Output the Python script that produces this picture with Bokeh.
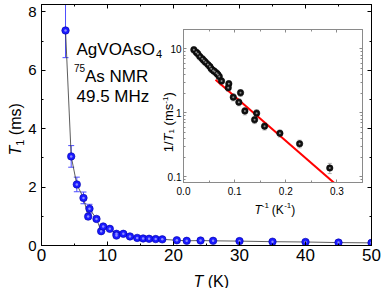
import math
from bokeh.plotting import figure
from bokeh.models import (ColumnDataSource, Whisker, TeeHead, Label, LinearAxis, LogAxis,
                          SingleIntervalTicker, FixedTicker, CustomJSTickFormatter, Range1d)
from bokeh.layouts import column
from bokeh.embed import file_html
from bokeh.resources import INLINE

# ---------------- data (main panel) ----------------
temp_K = [3.64, 4.5, 5.35, 6.36, 7.07, 7.27, 8.33, 9.04, 9.35, 10.35, 11.36, 11.36, 12.4, 13.4,
          14.5, 15.4, 16.3, 17.3, 18.3, 20.5, 22.0, 24.1, 26.0, 30.0, 35.0, 40.0, 45.0, 50.0]
t1_ms = [7.36, 3.05, 2.09, 1.63, 0.99, 1.26, 0.91, 0.49, 0.65, 0.57, 0.40, 0.34, 0.40, 0.31,
         0.26, 0.24, 0.23, 0.22, 0.21, 0.18, 0.16, 0.17, 0.16, 0.15, 0.13, 0.12, 0.10, 0.09]
t1_err = [0.93, 0.37, 0.25, 0.2, 0.08, 0.15, 0.06, 0.04, 0.05, 0.04, 0.03, 0.03, 0.03, 0.02,
          0.02, 0.02, 0.02, 0.02, 0.02, 0.01, 0.01, 0.01, 0.01, 0.01, 0.01, 0.01, 0.01, 0.01]

# ---------------- data (inset) ----------------
inv_T = [0.0202, 0.0249, 0.0280, 0.0319, 0.0366, 0.0397, 0.0431, 0.0476, 0.0515, 0.0542,
         0.0581, 0.0607, 0.0646, 0.0671, 0.0699, 0.0744, 0.0886, 0.0875, 0.0973, 0.1115,
         0.1082, 0.1200, 0.1390, 0.1430, 0.1585, 0.1885, 0.2270, 0.2860]
rate = [9.65, 8.85, 8.36, 7.58, 6.99, 6.57, 6.18, 5.69, 5.30, 4.88, 4.59, 4.43, 4.17, 3.98,
        3.70, 3.13, 2.85, 2.47, 1.76, 2.06, 1.47, 1.07, 0.78, 0.99, 0.62, 0.48, 0.33, 0.138]
rate_err = [1.1, 1.0, 1.0, 0.9, 0.8, 0.8, 0.7, 0.7, 0.6, 0.6, 0.5, 0.5, 0.5, 0.5,
            0.4, 0.4, 0.35, 0.3, 0.22, 0.25, 0.18, 0.14, 0.10, 0.13, 0.08, 0.06, 0.045, 0.025]
fit_x = [0.0626, 0.296]
fit_y = [3.29, 0.079]

FONT = "Liberation Sans"

# ---------------- main figure ----------------
W, H = 381, 288
FL, FR, FT, FB = 41, 371, 4, 245
XMAX, YMAX = 50, 8.25

p = figure(width=W, height=H, x_range=Range1d(0, XMAX), y_range=Range1d(0, YMAX),
           output_backend="svg", toolbar_location=None,
           min_border_left=FL, min_border_right=W - FR,
           min_border_top=FT, min_border_bottom=H - FB)
p.frame_align = False
p.xgrid.visible = False
p.ygrid.visible = False
p.outline_line_color = "black"
p.outline_line_width = 1
p.background_fill_color = "white"
p.border_fill_color = "white"

xt = SingleIntervalTicker(interval=10, num_minor_ticks=2)
yt = SingleIntervalTicker(interval=2, num_minor_ticks=2)


def style_axis(ax, fs, standoff, tin=4, tmin=2, color="black", hidden=False):
    ax.axis_line_color = color
    ax.major_tick_line_color = color
    ax.minor_tick_line_color = color
    ax.major_tick_in = tin
    ax.major_tick_out = 0
    ax.minor_tick_in = tmin
    ax.minor_tick_out = 0
    ax.major_label_text_font = FONT
    ax.major_label_text_font_size = fs
    ax.major_label_text_color = None if hidden else "black"
    ax.major_label_standoff = standoff


p.xaxis.ticker = xt
p.yaxis.ticker = yt
style_axis(p.xaxis[0], "17px", 3)
style_axis(p.yaxis[0], "15px", 5)
top_ax = LinearAxis(ticker=xt)
style_axis(top_ax, "1px", 0, hidden=True)
right_ax = LinearAxis(ticker=yt)
style_axis(right_ax, "1px", 0, hidden=True)
p.add_layout(top_ax, "above")
p.add_layout(right_ax, "right")

src = ColumnDataSource(dict(
    T=temp_K, T1=t1_ms,
    lo=[a - b for a, b in zip(t1_ms, t1_err)],
    hi=[a + b for a, b in zip(t1_ms, t1_err)]))
p.line("T", "T1", source=src, line_color="#333333", line_width=0.8)
p.add_layout(Whisker(source=src, base="T", upper="hi", lower="lo", dimension="height",
                     line_color="#4d4dff", line_width=1,
                     upper_head=TeeHead(size=6, line_color="#4d4dff", line_width=1),
                     lower_head=TeeHead(size=6, line_color="#4d4dff", line_width=1)))
p.scatter("T", "T1", source=src, size=7.5, fill_color="#1a1aff", line_color="#0000a8", line_width=0.6)
p.scatter("T", "T1", source=src, size=2.5, fill_color="#8c8cff", line_color=None)

# ---------------- inset ----------------
IL, IR, IT, IB = 183, 362, 29, 182
ILEFT, ITOP = 150, 27
IW, IH = 214, 190
IXMAX = 0.35
IYMIN, IYMAX = 0.082, 20

ins = figure(width=IW, height=IH, x_range=Range1d(0, IXMAX), y_range=Range1d(IYMIN, IYMAX),
             y_axis_type="log", output_backend="svg", toolbar_location=None,
             min_border_left=IL - ILEFT, min_border_right=ILEFT + IW - IR,
             min_border_top=IT - ITOP, min_border_bottom=ITOP + IH - IB)
ins.frame_align = False
ins.xgrid.visible = False
ins.ygrid.visible = False
ins.outline_line_color = "#8a8a8a"
ins.background_fill_color = "white"
ins.border_fill_color = None
ins.margin = (ITOP - H, 0, 0, ILEFT)

ixt = SingleIntervalTicker(interval=0.1, num_minor_ticks=2)
iyt = FixedTicker(ticks=[0.1, 1, 10],
                  minor_ticks=[0.09, 0.2, 0.3, 0.4, 0.5, 0.6, 0.7, 0.8, 0.9,
                               2, 3, 4, 5, 6, 7, 8, 9, 20])
ins.xaxis.ticker = ixt
ins.yaxis.ticker = iyt
ins.xaxis.formatter = CustomJSTickFormatter(code="return tick.toFixed(1);")
ins.yaxis.formatter = CustomJSTickFormatter(code="return tick < 1 ? tick.toFixed(1) : tick.toFixed(0);")
style_axis(ins.xaxis[0], "10px", 4, 3, 2, "#8a8a8a")
style_axis(ins.yaxis[0], "10px", 2, 3, 2, "#8a8a8a")
itop = LinearAxis(ticker=ixt)
style_axis(itop, "1px", 0, 3, 2, "#8a8a8a", hidden=True)
iright = LogAxis(ticker=iyt)
style_axis(iright, "1px", 0, 3, 2, "#8a8a8a", hidden=True)
ins.add_layout(itop, "above")
ins.add_layout(iright, "right")

isrc = ColumnDataSource(dict(
    x=inv_T, y=rate,
    lo=[a - b for a, b in zip(rate, rate_err)],
    hi=[a + b for a, b in zip(rate, rate_err)]))
ins.add_layout(Whisker(source=isrc, base="x", upper="hi", lower="lo", dimension="height",
                       line_color="#a0a0a0", line_width=0.8,
                       upper_head=TeeHead(size=4, line_color="#a0a0a0", line_width=0.8),
                       lower_head=TeeHead(size=4, line_color="#a0a0a0", line_width=0.8)))
ins.line(fit_x, fit_y, line_color="#ff0000", line_width=2)
ins.scatter("x", "y", source=isrc, size=6.5, fill_color="#111111", line_color="#000000", line_width=0.5)
ins.scatter("x", "y", source=isrc, size=2, fill_color="#8a8a8a", line_color=None)

# ---------------- transparent text overlay (page pixel coordinates) ----------------
ov = figure(width=W, height=H, x_range=Range1d(0, W), y_range=Range1d(H, 0), title=None,
            x_axis_type=None, y_axis_type=None, output_backend="svg", toolbar_location=None,
            min_border=0, min_border_left=0, min_border_right=0, min_border_top=0,
            min_border_bottom=0)
ov.frame_align = False
ov.xgrid.visible = False
ov.ygrid.visible = False
ov.outline_line_color = None
ov.background_fill_color = None
ov.border_fill_color = None
ov.margin = (-(ITOP + IH), 0, 0, 0)


def olabel(px, py, text, fs, style="normal", angle=0.0):
    ov.add_layout(Label(x=px, y=py, text=text, text_font=FONT, text_font_size=fs,
                        text_font_style=style, text_color="black", text_align="left",
                        text_baseline="alphabetic", angle=angle))


R = math.pi / 2
# sample annotation
olabel(76, 49, "AgVOAsO", "17px")
olabel(155.5, 53.5, "4", "11px")
olabel(73.5, 67, "75", "10px")
olabel(84.5, 75.7, "As NMR", "17px")
olabel(76, 95.7, "49.5 MHz", "17px")
# main y label: T1 (ms)
olabel(15, 155, "T", "16px", "italic", R)
olabel(19, 145.2, "1", "11px", "normal", R)
olabel(15, 134.7, "(ms)", "16px", "normal", R)
# main x label: T (K)
olabel(193, 281, "T", "16px", "italic")
olabel(207.2, 281, "(K)", "16px")
# inset y label: 1/T1 (ms-1)
olabel(168, 151.7, "1/", "13px", "normal", R)
olabel(168, 140.9, "T", "13px", "italic", R)
olabel(171, 132.9, "1", "8px", "normal", R)
olabel(168, 124.9, "(ms", "13px", "normal", R)
olabel(164.5, 103.2, "-1", "8px", "normal", R)
olabel(168, 96.1, ")", "13px", "normal", R)
# inset x label: T-1 (K-1)
olabel(254, 209, "T", "12px", "italic")
olabel(261.3, 204.5, "-1", "8px")
olabel(271.2, 209, "(K", "12px")
olabel(283.7, 204.5, "-1", "8px")
olabel(290.8, 209, ")", "12px")

layout = column(p, ins, ov)
open("out.html", "w").write(file_html(layout, INLINE))
